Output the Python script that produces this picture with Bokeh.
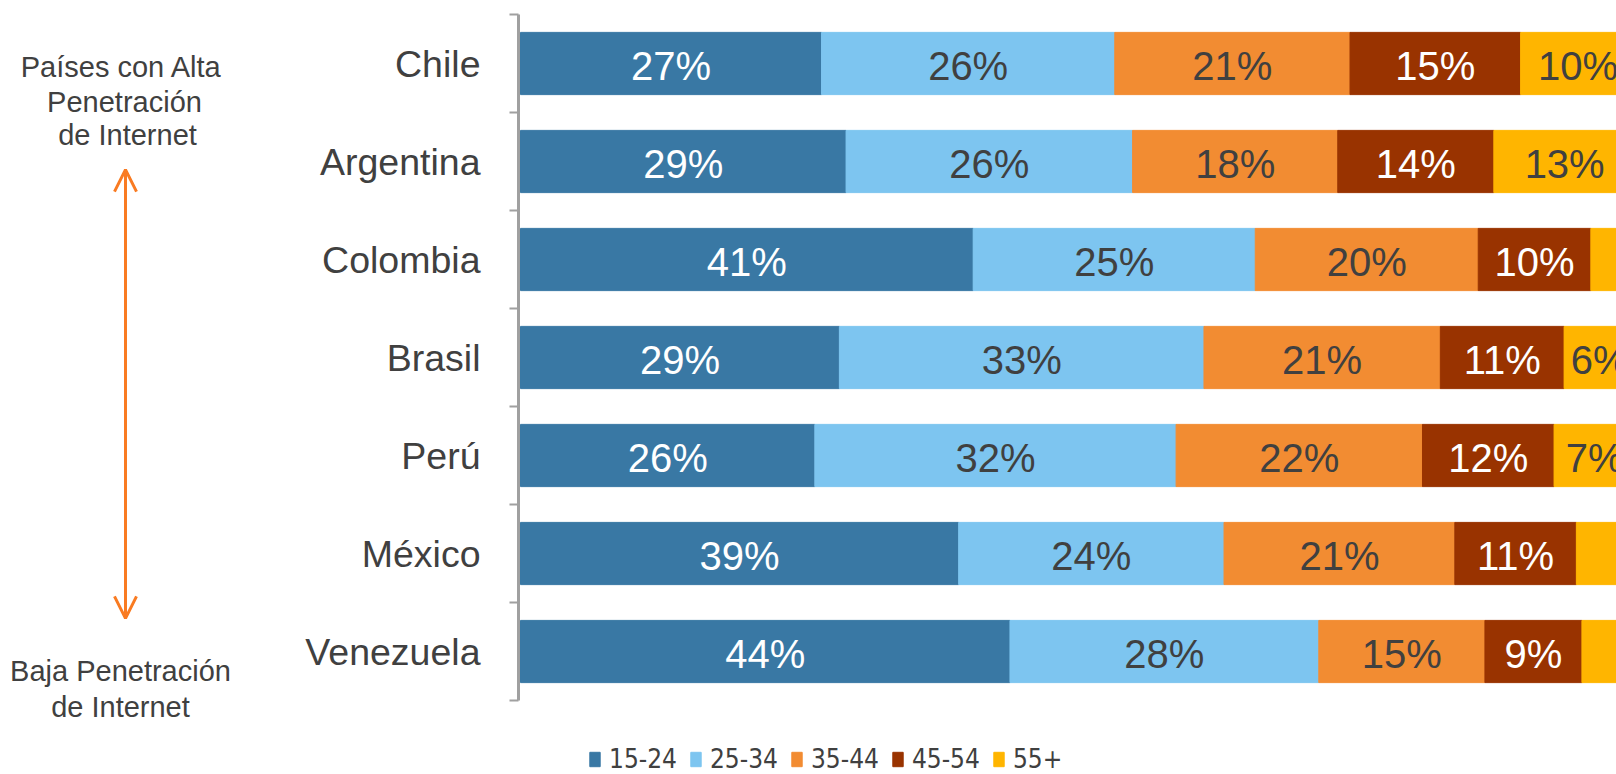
from bokeh.plotting import figure
from bokeh.models import (ColumnDataSource, Range1d, LinearAxis, CustomJSTickFormatter,
                          FixedTicker, Legend, LegendItem, Arrow, OpenHead, Label)
from bokeh.layouts import row
from bokeh.core.properties import value
from bokeh.embed import file_html
from bokeh.resources import INLINE

# ---------------- data ----------------
countries = ["Chile", "Argentina", "Colombia", "Brasil", "Perú", "México", "Venezuela"]
age_groups = ["15-24", "25-34", "35-44", "45-54", "55+"]
share_15_24 = [27.0, 29.2, 40.6, 28.6, 26.4, 39.3, 43.9]
share_25_34 = [26.3, 25.7, 25.3, 32.7, 32.4, 23.8, 27.7]
share_35_44 = [21.1, 18.4, 20.0, 21.2, 22.1, 20.7, 14.9]
share_45_54 = [15.3, 14.0, 10.1, 11.1, 11.8, 10.9, 8.7]
share_55_up = [10.3, 12.7, 4.0, 6.4, 7.3, 5.3, 4.8]
series = [share_15_24, share_25_34, share_35_44, share_45_54, share_55_up]

colors = ["#3978A4", "#7DC5F0", "#F28C32", "#993300", "#FFB500"]
label_colors = ["white", "#404040", "#404040", "white", "#404040"]
top_note = ["Países con Alta", "Penetración", "de Internet"]
bottom_note = ["Baja Penetración", "de  Internet"]

FONT = "Liberation Sans"
FONT_NARROW = "DejaVu Sans Condensed"
TEXT = "#404040"
ORANGE = "#F97B22"

# ---------------- main chart ----------------
n = len(countries)
ypos = [n - 0.5 - i for i in range(n)]          # Chile on top
keys = [f"g{i}" for i in range(len(age_groups))]
src = ColumnDataSource(dict(y=ypos, country=countries, **{k: s for k, s in zip(keys, series)}))

main = figure(width=1358, height=774,
              y_range=Range1d(-0.755, n),
              x_range=Range1d(-0.18, 98.3),
              output_backend="svg", toolbar_location=None,
              x_axis_location=None, y_axis_location=None,
              min_border_left=260, min_border_right=0,
              min_border_top=14, min_border_bottom=0,
              outline_line_color=None)
main.grid.visible = False

# axis line with ticks at category boundaries (no labels)
bax = LinearAxis(ticker=FixedTicker(ticks=list(range(n + 1))), bounds=(0, n),
                 formatter=CustomJSTickFormatter(code="return ''"),
                 axis_line_color="#A0A0A0", axis_line_width=3,
                 major_tick_line_color="#A0A0A0", major_tick_line_width=2,
                 major_tick_in=0, major_tick_out=9,
                 minor_tick_line_color=None,
                 major_label_standoff=0)
main.add_layout(bax, "left")

# category labels
cax = LinearAxis(ticker=FixedTicker(ticks=ypos),
                 major_label_overrides={float(y): c for y, c in zip(ypos, countries)},
                 axis_line_color=None, major_tick_line_color=None,
                 minor_tick_line_color=None,
                 major_tick_in=0, major_tick_out=0,
                 major_label_standoff=29,
                 major_label_text_font_size="37.5px",
                 major_label_text_color=TEXT,
                 major_label_text_font=FONT)
main.add_layout(cax, "left")

renderers = main.hbar_stack(keys, y="y", height=0.635, color=colors, source=src)

# data labels
lx, ly, lt, lc = [], [], [], []
for ci, yv in enumerate(ypos):
    cum = 0.0
    for gi, s in enumerate(series):
        v = s[ci]
        if v >= 6:
            lx.append(cum + v / 2)
            ly.append(yv)
            lt.append(f"{round(v)}%")
            lc.append(label_colors[gi])
        cum += v
lab_src = ColumnDataSource(dict(x=lx, y=ly, text=lt, color=lc))
main.text(x="x", y="y", text="text", text_color="color", source=lab_src,
          text_align="center", text_baseline="middle", y_offset=2,
          text_font=value(FONT), text_font_size="40px")

legend = Legend(items=[LegendItem(label=g, renderers=[r]) for g, r in zip(age_groups, renderers)],
                orientation="horizontal", location=(70, 0),
                glyph_width=13, glyph_height=18, label_standoff=8, spacing=12,
                padding=0, margin=0, border_line_color=None, background_fill_alpha=0,
                label_text_font=FONT_NARROW, label_text_font_size="26px",
                label_text_color=TEXT)
main.add_layout(legend)

# ---------------- left annotation panel ----------------
left = figure(width=258, height=774, x_range=Range1d(0, 258), y_range=Range1d(774, 0),
              output_backend="svg", toolbar_location=None,
              x_axis_location=None, y_axis_location=None,
              min_border=0, outline_line_color=None)
left.grid.visible = False

for txt, x, y in zip(top_note, [121, 124, 127], [53, 89, 123]):
    left.add_layout(Label(x=x, y=y, text=txt, text_align="center", text_baseline="alphabetic",
                          text_font=FONT, text_font_size="29px", text_color=TEXT))
for txt, x, y in zip(bottom_note, [120, 124], [669, 705]):
    left.add_layout(Label(x=x, y=y, text=txt, text_align="center", text_baseline="alphabetic",
                          text_font=FONT, text_font_size="29px", text_color=TEXT))

left.add_layout(Arrow(start=OpenHead(size=22, line_color=ORANGE, line_width=3),
                      end=OpenHead(size=22, line_color=ORANGE, line_width=3),
                      x_start=125, y_start=615, x_end=125, y_end=158,
                      line_color=ORANGE, line_width=3))

layout = row(left, main)
open("out.html", "w").write(file_html(layout, INLINE))
